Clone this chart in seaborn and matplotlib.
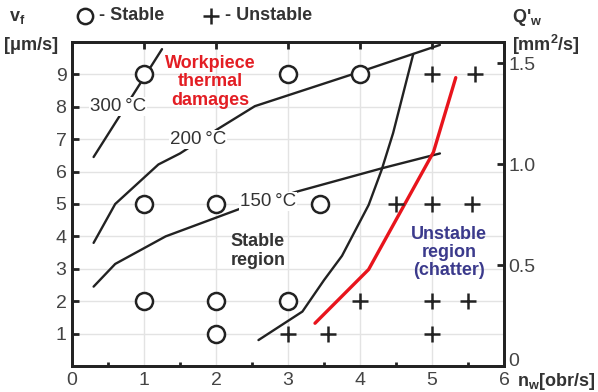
import matplotlib
matplotlib.use("Agg")
import matplotlib.pyplot as plt
from matplotlib.ticker import MultipleLocator, FixedLocator
from matplotlib.lines import Line2D
import seaborn as sns
import pandas as pd

sns.set_style("white")
plt.rcParams['font.family'] = ['Liberation Sans', 'DejaVu Sans']
plt.rcParams['mathtext.fontset'] = 'custom'
plt.rcParams['mathtext.rm'] = 'Liberation Sans'
plt.rcParams['mathtext.bf'] = 'Liberation Sans:bold'
plt.rcParams['mathtext.it'] = 'Liberation Sans:italic'

# ---- data ----
stable_x = [1, 3, 4, 1, 2, 3.45, 1, 2, 3, 2]
stable_y = [9, 9, 9, 5, 5, 5, 2, 2, 2, 1]
unstable_x = [5, 5.6, 4.5, 5, 5.55, 4, 5, 5.5, 3, 3.55, 5]
unstable_y = [9, 9, 5, 5, 5, 2, 2, 2, 1, 1, 1]

t300_x = [0.3, 1.25]
t300_y = [6.45, 9.78]
t200_x = [0.3, 0.6, 1.2, 1.5, 2.0, 2.54, 4.0, 5.11]
t200_y = [3.8, 5.0, 6.22, 6.56, 7.28, 8.02, 9.08, 9.91]
t150_x = [0.3, 0.6, 1.3, 2.33, 3.12, 4.3, 5.11]
t150_y = [2.45, 3.15, 4.0, 4.85, 5.38, 6.1, 6.56]
limit_x = [2.59, 3.2, 3.5, 3.75, 4.12, 4.3, 4.46, 4.74]
limit_y = [0.8, 1.68, 2.65, 3.4, 4.97, 6.05, 7.19, 9.63]
red_x = [3.375, 4.12, 5.02, 5.33]
red_y = [1.32, 2.98, 6.6, 8.9]

temp_labels = ["300\u2009°C", "200\u2009°C", "150\u2009°C"]
temp_lab_x = [0.64, 1.75, 2.72]
temp_lab_y = [8.0, 6.98, 5.07]

x_ticks = [0, 1, 2, 3, 4, 5, 6]
y_ticks = [1, 2, 3, 4, 5, 6, 7, 8, 9]
q_ticks = [0, 0.5, 1.0, 1.5]
q_labels = ["0", "0.5", "1.0", "1.5"]

# ---- figure ----
fig = plt.figure(figsize=(5.98, 3.92), dpi=100)
ax = fig.add_axes([72/598, 26/392, 432/598, 324/392])

dark = '#222222'
txt = '#444444'

for xs, ys in [(t300_x, t300_y), (t200_x, t200_y), (t150_x, t150_y), (limit_x, limit_y)]:
    sns.lineplot(x=xs, y=ys, sort=False, estimator=None, ax=ax,
                 color=dark, lw=1.7, zorder=3)
sns.lineplot(x=red_x, y=red_y, sort=False, estimator=None, ax=ax,
             color='#e8141c', lw=2.4, zorder=3)

sns.scatterplot(x=stable_x, y=stable_y, ax=ax, marker='o', s=150,
                facecolor='white', edgecolor=dark, linewidth=1.8, zorder=5)
sns.scatterplot(x=unstable_x, y=unstable_y, ax=ax, marker='+', s=130,
                color=dark, linewidth=1.8, zorder=5)

for lab, lx, ly in zip(temp_labels, temp_lab_x, temp_lab_y):
    ax.text(lx, ly, lab, ha='center', va='center', fontsize=13.5, color='#333333',
            zorder=4, bbox=dict(facecolor='white', edgecolor='none', pad=0.8))

ax.text(1.92, 8.77, "Workpiece\nthermal\ndamages", ha='center', va='center',
        fontsize=13, fontweight='bold', color='#e31e24', linespacing=1.1, zorder=6)
ax.text(2.58, 3.55, "Stable\nregion", ha='center', va='center',
        fontsize=13, fontweight='bold', color='#333333', linespacing=1.15, zorder=6)
ax.text(5.24, 3.5, "Unstable\nregion\n(chatter)", ha='center', va='center',
        fontsize=13, fontweight='bold', color='#3b3a8c', linespacing=1.1, zorder=6)

ax.set_xlim(0, 6)
ax.set_ylim(0, 10)
ax.xaxis.set_major_locator(FixedLocator(x_ticks))
ax.xaxis.set_minor_locator(MultipleLocator(0.5))
ax.yaxis.set_major_locator(FixedLocator(y_ticks))
ax.set_xticklabels([str(v) for v in x_ticks])
ax.set_yticklabels([str(v) for v in y_ticks])
ax.grid(True, which='major', color='#e3e3e3', lw=1.0, zorder=0)
ax.set_axisbelow(True)
ax.tick_params(which='major', direction='in', length=5, width=2, color=dark,
               labelsize=14, labelcolor=txt, top=True, right=False, pad=4)
ax.tick_params(which='minor', direction='in', length=3, width=2, color=dark,
               bottom=True, top=False)
for s in ax.spines.values():
    s.set_color(dark)
    s.set_linewidth(2)

ax2 = ax.twinx()
ax2.set_ylim(0, 1.604)
ax2.yaxis.set_major_locator(FixedLocator(q_ticks))
ax2.set_yticklabels(q_labels)
ax2.tick_params(direction='in', length=5, width=2, color=dark, labelsize=14,
                labelcolor=txt, pad=3)
ax2.get_yticklabels()[0].set_va('baseline')
for s in ax2.spines.values():
    s.set_color(dark)
    s.set_linewidth(2)
ax2.grid(False)

# axis labels
bold = dict(fontsize=13, fontweight='bold', color='#333333')
fig.text(9/598, 1 - 18/392, r"v$_\mathbf{f}$", ha='left', va='center', **bold)
fig.text(4/598, 1 - 45/392, "[μm/s]", ha='left', va='center', **bold)
fig.text(512/598, 1 - 18/392, r"Q'$_\mathbf{w}$", ha='left', va='center', **bold)
fig.text(512/598, 1 - 45/392, r"[mm$^\mathbf{2}$/s]", ha='left', va='center', **bold)
fig.text(517/598, 1 - 381/392, r"n$_\mathbf{w}$[obr/s]", ha='left', va='center', **bold)

# legend-like header
fig.add_artist(Line2D([85/598], [1 - 16/392], marker='o', markersize=11,
                      markerfacecolor='none', markeredgecolor=dark, mew=1.8,
                      transform=fig.transFigure))
fig.text(99/598, 1 - 16/392, "- Stable", ha='left', va='center', **bold)
fig.add_artist(Line2D([211/598], [1 - 16/392], marker='+', markersize=11,
                      color=dark, mew=1.8, transform=fig.transFigure))
fig.text(225/598, 1 - 16/392, "- Unstable", ha='left', va='center', **bold)

fig.savefig("out.png", dpi=100)
